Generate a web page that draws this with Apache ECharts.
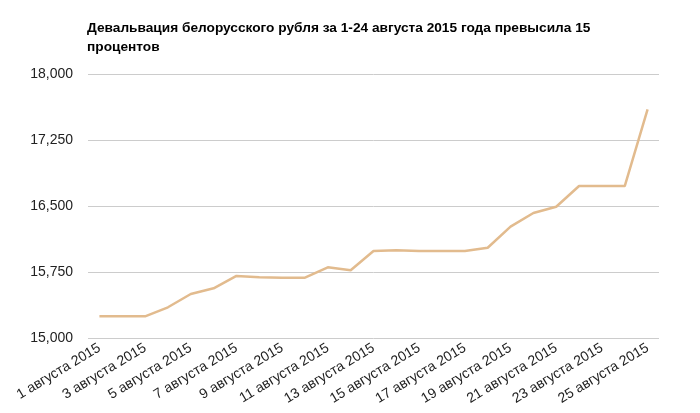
<!DOCTYPE html>
<html>
<head>
<meta charset="utf-8">
<script src="https://cdn.jsdelivr.net/npm/echarts@6/dist/echarts.min.js"></script>
<style>
html,body{margin:0;padding:0;background:#fff;}
#c{width:700px;height:413px;}
</style>
</head>
<body>
<div id="c"></div>
<script>
var titleText = "Девальвация белорусского рубля за 1-24 августа 2015 года превысила 15\nпроцентов";
var categories = [];
for (var d = 1; d <= 25; d++) { categories.push(d + " августа 2015"); }
var rates = [15246, 15246, 15246, 15349, 15500, 15565, 15705, 15690, 15686, 15686,
             15803, 15770, 15989, 15996, 15989, 15989, 15989, 16026, 16265, 16420,
             16492, 16727, 16727, 16727, 17599];
var yMin = 15000, yMax = 18000, yStep = 750;

var chart = echarts.init(document.getElementById('c'), null, {renderer: 'canvas'});
chart.setOption({
  animation: false,
  backgroundColor: '#ffffff',
  title: {
    text: titleText,
    left: 82,
    top: 14,
    textStyle: {
      fontFamily: 'Liberation Sans, Arial, sans-serif',
      fontSize: 13.7,
      fontWeight: 'bold',
      color: '#000',
      lineHeight: 19
    }
  },
  grid: {left: 88, right: 41, top: 74, bottom: 75, containLabel: false},
  xAxis: {
    type: 'category',
    data: categories,
    boundaryGap: true,
    axisLine: {show: false},
    axisTick: {show: false},
    axisLabel: {
      interval: 1,
      rotate: 31,
      margin: 9,
      fontFamily: 'Liberation Sans, Arial, sans-serif',
      fontSize: 14,
      color: '#222'
    }
  },
  yAxis: {
    type: 'value',
    min: yMin,
    max: yMax,
    interval: yStep,
    axisLine: {show: false},
    axisTick: {show: false},
    splitLine: {lineStyle: {color: '#cccccc', width: 1}},
    axisLabel: {
      margin: 15,
      fontFamily: 'Liberation Sans, Arial, sans-serif',
      fontSize: 14,
      color: '#222',
      formatter: function (v) { return v.toLocaleString('en-US'); }
    }
  },
  series: [{
    type: 'line',
    data: rates,
    symbol: 'none',
    lineStyle: {color: '#e2bb8e', width: 2.5},
    itemStyle: {color: '#e2bb8e'}
  }]
});
</script>
</body>
</html>
